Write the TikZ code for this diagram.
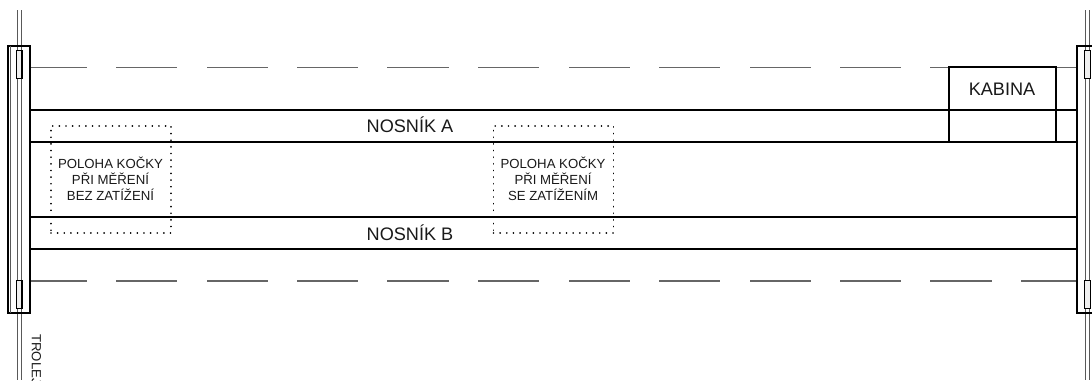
\documentclass[tikz,border=0pt]{standalone}
\usepackage{fontspec}
\setmainfont{Liberation Sans}
\tikzset{
  beam/.style={draw=black,line width=1.1pt},
  rail/.style={draw=black!65,line width=0.7pt},
  frame/.style={draw=black,line width=1.1pt},
  shoe/.style={draw=black,fill=black!6,line width=0.9pt},
  track/.style={draw=black!60,line width=0.9pt},
  dotbox/.style={draw=black,line width=1.35pt,line cap=round,dash pattern=on 0.01pt off 4.97pt},
  big/.style={font=\fontsize{13.6pt}{15pt}\selectfont,text=black!90,inner sep=0pt},
  small/.style={font=\fontsize{9.9pt}{12.1pt}\selectfont,text=black!90,inner sep=0pt,align=center}
}
\begin{document}
\begin{tikzpicture}[x=0.75pt,y=-0.75pt]
\path[use as bounding box] (0,0) rectangle (1092,380);
\clip (0,0) rectangle (1092,380);
% coordinates of the free ends
\coordinate (railLtop) at (19.5,10);
\coordinate (railLbot) at (19.5,380);
\coordinate (railRtop) at (1087.5,10);
\coordinate (railRbot) at (1087.5,380);
% dashed tracks
\foreach \y in {67.5,281}{
  \foreach \a/\b in {30/87,116/177,207/268,297/358,387/449,478/539,569/630,659/720,750/811,840/901,930/992,1021/1077}{
    \draw[track] (\a,\y) -- (\b,\y);
  }
}
% beams
\foreach \y in {110,142,217,249}{
  \draw[beam] (30,\y) -- (1077,\y);
}
% crane rails (double line)
\foreach \d in {-1.7,1.7}{
  \draw[rail] ([xshift=\d*0.75pt]railLtop) -- ([xshift=\d*0.75pt]railLbot);
  \draw[rail] ([xshift=\d*0.75pt]railRtop) -- ([xshift=\d*0.75pt]railRbot);
}
% end carriages
\node[frame,minimum width=16.5pt,minimum height=200.25pt,inner sep=0pt] (endL) at (19,179.5) {};
\node[frame,minimum width=16.5pt,minimum height=200.25pt,inner sep=0pt] (endR) at (1088,179.5) {};
\draw[rail] (10.5,46) -- (10.5,313);
\node[shoe,minimum width=4.2pt,minimum height=21pt,inner sep=0pt] (shoeLt) at (19.2,64.5) {};
\node[shoe,minimum width=4.2pt,minimum height=21pt,inner sep=0pt] (shoeLb) at (19.2,294.5) {};
\node[shoe,minimum width=4.2pt,minimum height=21pt,inner sep=0pt] (shoeRt) at (1087.5,64.5) {};
\node[shoe,minimum width=4.2pt,minimum height=21pt,inner sep=0pt] (shoeRb) at (1087.5,294.5) {};
% cabin
\node[draw=black,line width=1.1pt,fill=white,minimum width=80.25pt,minimum height=56.25pt,inner sep=0pt] (cab) at (1002.5,104.5) {};
\draw[beam] (cab.west |- 0,110) -- (cab.east |- 0,110);
\node[big] (kab) at (1002,89) {KABINA};
% beam labels
\node[big] (na) at (410,124.5) {NOSNÍK A};
\node[big] (nb) at (410,232.5) {NOSNÍK B};
% trolley position boxes
\node[dotbox,minimum width=90pt,minimum height=80.25pt,inner sep=0pt] (p1) at (111,179.2) {};
\node[dotbox,minimum width=90pt,minimum height=80.25pt,inner sep=0pt] (p2) at (553.5,179.2) {};
\node[small] (t1) at (110.5,179) {POLOHA KOČKY\\PŘI MĚŘENÍ\\BEZ ZATÍŽENÍ};
\node[small] (t2) at (553,179) {POLOHA KOČKY\\PŘI MĚŘENÍ\\SE ZATÍŽENÍM};
% trolley wire label
\node[rotate=-90,anchor=west,inner sep=0pt,font=\fontsize{9.9pt}{12pt}\selectfont,text=black!90] (trol) at (36.5,334) {TROLEJ};
\end{tikzpicture}
\end{document}
